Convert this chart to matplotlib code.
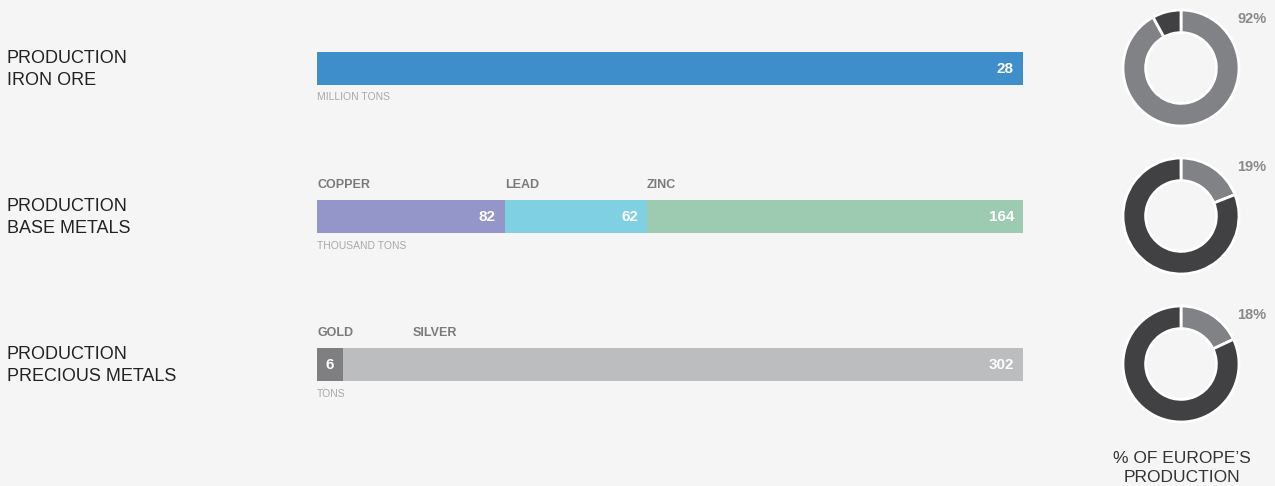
import matplotlib.pyplot as plt
import numpy as np

plt.rcParams['font.family'] = ['Liberation Sans', 'DejaVu Sans']

W, H = 1275, 486
bg = '#f5f5f5'

row_titles = ['PRODUCTION\nIRON ORE', 'PRODUCTION\nBASE METALS', 'PRODUCTION\nPRECIOUS METALS']
units = ['MILLION TONS', 'THOUSAND TONS', 'TONS']

segment_names = [[''], ['COPPER', 'LEAD', 'ZINC'], ['GOLD', 'SILVER']]
segment_values = [[28], [82, 62, 164], [6, 302]]
segment_colors = [['#3d8ecb'], ['#9496ca', '#7fd0e2', '#9ccbb2'], ['#7f7f82', '#bcbdbf']]

europe_share = [92, 19, 18]

fig = plt.figure(figsize=(W / 100, H / 100), dpi=100)
fig.patch.set_facecolor(bg)


def px_axes(x0, y0, w, h):
    return fig.add_axes([x0 / W, 1 - (y0 + h) / H, w / W, h / H])


row_top = [52, 200, 348]
bar_left, bar_width, bar_height = 317, 706, 33

for i in range(3):
    # left title
    fig.text(7 / W, 1 - (row_top[i] + 17.5) / H, row_titles[i], fontsize=13,
             color='#222222', va='center', ha='left', linespacing=1.32)

    ax = px_axes(bar_left, row_top[i], bar_width, bar_height)
    ax.set_facecolor(bg)
    vals = np.array(segment_values[i], dtype=float)
    total = vals.sum()
    # tiny segments get a minimum width so their label fits
    shown = np.maximum(vals, total * 0.037)
    shown = shown * total / shown.sum()
    lefts = np.concatenate([[0], np.cumsum(shown)[:-1]])
    ax.barh(0, shown, left=lefts, height=1, color=segment_colors[i], linewidth=0)
    ax.set_xlim(0, total)
    ax.set_ylim(-0.5, 0.5)
    ax.axis('off')

    label_px = -1e9
    for j, v in enumerate(vals):
        ax.annotate(f'{int(v)}', xy=(lefts[j] + shown[j], 0), xytext=(-6.5, 0),
                    textcoords='offset points', ha='right', va='center',
                    fontsize=11, fontweight='bold', color='white')
        if segment_names[i][j]:
            seg_px = lefts[j] / total * bar_width
            label_px = max(seg_px, label_px + 96)
            ax.annotate(segment_names[i][j], xy=(label_px / bar_width, 1),
                        xycoords='axes fraction', xytext=(0, 11),
                        textcoords='offset points', ha='left', va='center',
                        fontsize=9, fontweight='bold', color='#7a7a7a',
                        annotation_clip=False)
    ax.annotate(units[i], xy=(0, 0), xycoords='axes fraction', xytext=(0, -9),
                textcoords='offset points', ha='left', va='center',
                fontsize=7.5, color='#a8a8a8', annotation_clip=False)

    # donut
    r_px = 58
    dax = px_axes(1181 - 1.05 * r_px, row_top[i] + 16 - 1.05 * r_px, 2.1 * r_px, 2.1 * r_px)
    share = europe_share[i]
    dax.pie([share, 100 - share], colors=['#818285', '#414143'], startangle=90,
            counterclock=False, radius=1,
            wedgeprops=dict(width=0.39, edgecolor='white', linewidth=2))
    dax.set_xlim(-1.05, 1.05)
    dax.set_ylim(-1.05, 1.05)
    dax.set_aspect('equal')
    dax.text(1.22, 0.85, f'{share}%', ha='center', va='center', fontsize=10.5,
             fontweight='bold', color='#8a8a8a', clip_on=False)

fig.text(1182 / W, 1 - 468 / H, '% OF EUROPE\u2019S\nPRODUCTION', ha='center',
         va='center', multialignment='center', fontsize=12.5, color='#333333',
         linespacing=1.38)

fig.savefig('out.png', dpi=100, facecolor=bg)
